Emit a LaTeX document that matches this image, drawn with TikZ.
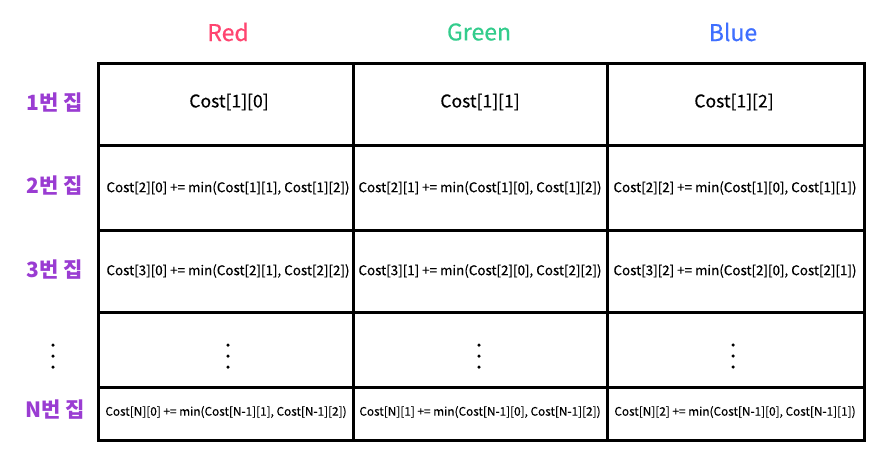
\documentclass[tikz,border=0pt]{standalone}
\usepackage{fontspec}
\setmainfont{Noto Sans CJK KR}
\newfontfamily\medfont[FakeBold=0.4]{Noto Sans CJK KR}
\definecolor{cred}{HTML}{FF4570}
\definecolor{cgreen}{HTML}{33CC8C}
\definecolor{cblue}{HTML}{3F6FFF}
\definecolor{cpurple}{HTML}{9A3CD2}
\tikzset{
  grid/.style={line width=3pt, black},
  head/.style={font=\medfont\fontsize{23}{27}\selectfont, inner sep=0pt},
  rowlab/.style={font=\fontsize{21}{25}\selectfont\bfseries, text=cpurple, inner sep=0pt},
  big/.style={font=\medfont\fontsize{17.5}{21}\selectfont, inner sep=0pt},
  mid/.style={font=\medfont\fontsize{13.4}{16}\selectfont, inner sep=0pt},
  small/.style={font=\medfont\fontsize{11.8}{14}\selectfont, inner sep=0pt},
  dot/.style={circle, fill=black, inner sep=0pt, minimum size=3.5pt}
}
\begin{document}
\begin{tikzpicture}[x=1pt,y=-1pt]
\useasboundingbox (0,0) rectangle (888,467);
% grid
\draw[grid] (98.5,63.5) rectangle (864,440);
\draw[grid] (353,63.5) -- (353,440);
\draw[grid] (607,63.5) -- (607,440);
\draw[grid] (98.5,145.5) -- (864,145.5);
\draw[grid] (98.5,230) -- (864,230);
\draw[grid] (98.5,312) -- (864,312);
\draw[grid] (98.5,387.5) -- (864,387.5);
% headers
\node[head, text=cred] (hr) at (228,32) {Red};
\node[head, text=cgreen] (hg) at (479,32) {Green};
\node[head, text=cblue] (hb) at (733,32) {Blue};
% row labels
\node[rowlab] (r1) at (55,103) {1번 집};
\node[rowlab] (r2) at (55,186) {2번 집};
\node[rowlab] (r3) at (55,270) {3번 집};
\node[rowlab] (rn) at (55,410) {N번 집};
\node[dot] (ld1) at (53,345) {};
\node[dot] (ld2) at (53,356) {};
\node[dot] (ld3) at (53,367) {};
% row 1
\node[big] (c10) at (229,102) {Cost[1][0]};
\node[big] (c11) at (480,102) {Cost[1][1]};
\node[big] (c12) at (734,102) {Cost[1][2]};
% row 2
\node[mid] (c20) at (228,188) {Cost[2][0] += min(Cost[1][1], Cost[1][2])};
\node[mid] (c21) at (480,188) {Cost[2][1] += min(Cost[1][0], Cost[1][2])};
\node[mid] (c22) at (735,188) {Cost[2][2] += min(Cost[1][0], Cost[1][1])};
% row 3
\node[mid] (c30) at (228,271) {Cost[3][0] += min(Cost[2][1], Cost[2][2])};
\node[mid] (c31) at (480,271) {Cost[3][1] += min(Cost[2][0], Cost[2][2])};
\node[mid] (c32) at (735,271) {Cost[3][2] += min(Cost[2][0], Cost[2][1])};
% dots
\foreach \cx/\nm in {228/a, 479/b, 733/c}{
  \node[dot] (\nm1) at (\cx,345) {};
  \node[dot] (\nm2) at (\cx,356) {};
  \node[dot] (\nm3) at (\cx,367) {};
}
% row N
\node[small] (cn0) at (226,412) {Cost[N][0] += min(Cost[N-1][1], Cost[N-1][2])};
\node[small] (cn1) at (480,412) {Cost[N][1] += min(Cost[N-1][0], Cost[N-1][2])};
\node[small] (cn2) at (735,412) {Cost[N][2] += min(Cost[N-1][0], Cost[N-1][1])};
\end{tikzpicture}
\end{document}
